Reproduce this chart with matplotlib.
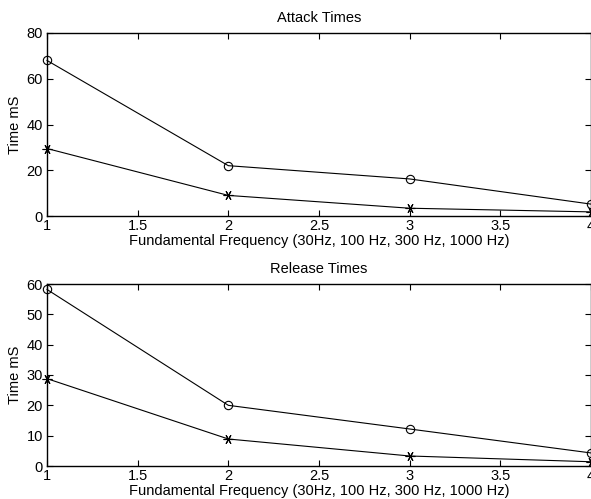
import matplotlib
matplotlib.use("Agg")
import matplotlib.pyplot as plt

plt.rcParams['font.family'] = ['Liberation Sans', 'DejaVu Sans']

freq_index = [1, 2, 3, 4]
attack_circle = [68, 22, 16.2, 5.2]
attack_star = [29.5, 9, 3.4, 1.8]
release_circle = [58.2, 20, 12.2, 4.3]
release_star = [28.8, 8.9, 3.3, 1.4]

xticks = [1, 1.5, 2, 2.5, 3, 3.5, 4]
attack_yticks = [0, 20, 40, 60, 80]
release_yticks = [0, 10, 20, 30, 40, 50, 60]

xlabel_text = 'Fundamental Frequency (30Hz, 100 Hz, 300 Hz, 1000 Hz)'

fig = plt.figure(figsize=(5.91, 4.99), dpi=100)
W, H = 591.0, 499.0
ax1 = fig.add_axes([47 / W, 1 - 216 / H, (591 - 47) / W, (216 - 33) / H])
ax2 = fig.add_axes([47 / W, 1 - 466 / H, (591 - 47) / W, (466 - 284) / H])

star = (6, 2, 90)


def style(ax, circ, st, yticks, title):
    ax.plot(freq_index, circ, color='black', lw=0.8, marker='o', ms=6,
            mfc='none', mec='black', mew=0.8, clip_on=False)
    ax.plot(freq_index, st, color='black', lw=0.8, marker=star, ms=7,
            mec='black', mew=0.8, clip_on=False)
    ax.set_xlim(1, 4)
    ax.set_ylim(yticks[0], yticks[-1])
    ax.set_xticks(xticks)
    ax.set_xticklabels(['%g' % t for t in xticks])
    ax.set_yticks(yticks)
    ax.tick_params(direction='in', top=True, right=True, length=4,
                   width=0.8, labelsize=10.5)
    ax.tick_params(axis='x', pad=2)
    ax.tick_params(axis='y', pad=3)
    for s in ax.spines.values():
        s.set_linewidth(1.0)
    ax.set_title(title, fontsize=10.5, pad=8)
    ax.set_xlabel(xlabel_text, fontsize=10.5, labelpad=1)
    ax.set_ylabel('Time mS', fontsize=10.5, labelpad=3)


style(ax1, attack_circle, attack_star, attack_yticks, 'Attack Times')
style(ax2, release_circle, release_star, release_yticks, 'Release Times')

fig.savefig('out.png', dpi=100)
